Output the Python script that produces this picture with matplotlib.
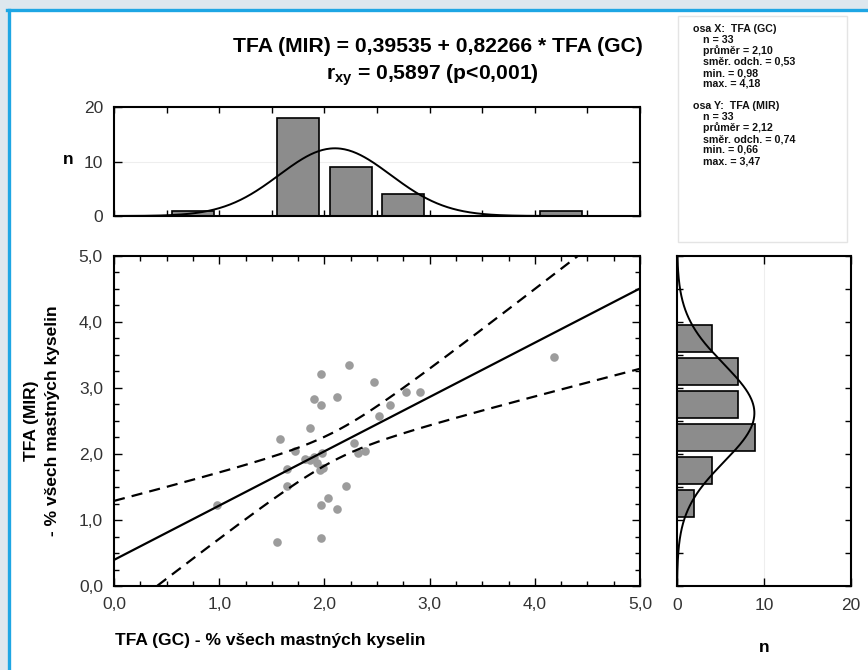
import numpy as np
import matplotlib
matplotlib.use("Agg")
import matplotlib.pyplot as plt
from matplotlib.patches import Rectangle
from matplotlib.lines import Line2D
from matplotlib.ticker import MultipleLocator, FixedLocator, FuncFormatter

plt.rcParams['font.family'] = ['Liberation Sans', 'DejaVu Sans']
plt.rcParams['mathtext.fontset'] = 'custom'
plt.rcParams['mathtext.rm'] = 'Liberation Sans:bold'
plt.rcParams['mathtext.it'] = 'Liberation Sans:bold'
plt.rcParams['mathtext.bf'] = 'Liberation Sans:bold'

# ---------------- data ----------------
x_gc = [0.98, 1.55, 1.58, 1.64, 1.64, 1.72, 1.86, 1.90, 1.97, 1.97, 1.97,
        2.03, 1.97, 2.12, 2.12, 2.21, 2.23, 2.28, 2.32, 2.39, 2.47, 2.52,
        2.62, 2.78, 2.91, 4.18, 1.82, 1.86, 1.98, 1.93, 1.96, 1.99, 1.90]
y_mir = [1.22, 0.66, 2.22, 1.78, 1.52, 2.04, 2.39, 2.83, 3.21, 2.74, 1.22,
         1.34, 0.73, 1.17, 2.86, 1.52, 3.35, 2.16, 2.01, 2.04, 3.09, 2.57,
         2.74, 2.94, 2.94, 3.47, 1.92, 1.91, 2.01, 1.86, 1.76, 1.79, 1.95]

intercept = 0.39535
slope = 0.82266
r_xy = 0.5897
t_crit = 2.0395

n_obs = 33
x_mean, x_sd, x_min, x_max = 2.10, 0.53, 0.98, 4.18
y_mean, y_sd, y_min, y_max = 2.12, 0.74, 0.66, 3.47

top_bin_centers = [0.75, 1.25, 1.75, 2.25, 2.75, 3.25, 3.75, 4.25]
top_counts = [1, 0, 18, 9, 4, 0, 0, 1]
right_bin_centers = [1.25, 1.75, 2.25, 2.75, 3.25, 3.75]
right_counts = [2, 4, 9, 7, 7, 4]
bin_width = 0.5
right_shift = 0.5

title1 = "TFA (MIR) = 0,39535 + 0,82266 * TFA (GC)"
title2 = r"$r_{xy}$ = 0,5897 (p<0,001)"
xlabel = "TFA (GC) - % všech mastných kyselin"
ylabel = "TFA (MIR)\n- % všech mastných kyselin"
stats_x = ["osa X:  TFA (GC)", "n = 33", "průměr = 2,10", "směr. odch. = 0,53", "min. = 0,98", "max. = 4,18"]
stats_y = ["osa Y:  TFA (MIR)", "n = 33", "průměr = 2,12", "směr. odch. = 0,74", "min. = 0,66", "max. = 3,47"]

# ---------------- figure ----------------
W, H = 868, 670
fig = plt.figure(figsize=(W / 100, H / 100), dpi=100)
fig.patch.set_facecolor('#dde7ee')

def fx(px):
    return px / W

def fy(py):
    return 1 - py / H

def box(l, t, r, b):
    return [fx(l), fy(b), fx(r) - fx(l), fy(t) - fy(b)]

fig.patches.append(Rectangle((fx(8), 0), 1, fy(9.5), transform=fig.transFigure,
                             facecolor='white', edgecolor='none', zorder=-10))
fig.lines.append(Line2D([fx(8.5), fx(8.5)], [0, fy(9.5)], transform=fig.transFigure,
                        color='#1ea6e4', lw=2.4, zorder=-5))
fig.lines.append(Line2D([fx(7.3), 1], [fy(9.5), fy(9.5)], transform=fig.transFigure,
                        color='#1ea6e4', lw=2.4, zorder=-5))

# stats box
fig.patches.append(Rectangle((fx(678), fy(242)), fx(847) - fx(678), fy(16) - fy(242),
                             transform=fig.transFigure, facecolor='white',
                             edgecolor='#e4e4e4', lw=1.0, zorder=-5))
ys = [29, 40, 51, 62, 73, 84]
for i, s in enumerate(stats_x):
    fig.text(fx(693 if i == 0 else 703), fy(ys[i]), s, fontsize=7.7, fontweight='bold',
             va='center', ha='left', color='#111111')
for i, s in enumerate(stats_y):
    fig.text(fx(693 if i == 0 else 703), fy(ys[i] + 77), s, fontsize=7.7, fontweight='bold',
             va='center', ha='left', color='#111111')

# titles
fig.text(fx(438), fy(46), title1, fontsize=15.2, fontweight='bold', ha='center', va='center')
fig.text(fx(432), fy(75), title2, fontsize=15.2, fontweight='bold', ha='center', va='center')

tick_col = '#333333'
lab_fs = 12.5
spine_lw = 1.5

def style(ax):
    for s in ax.spines.values():
        s.set_linewidth(spine_lw)
    ax.tick_params(which='both', direction='in', top=True, right=True, colors='black',
                   labelcolor=tick_col, labelsize=lab_fs, width=1.0)
    ax.tick_params(which='major', length=6, pad=8)
    ax.tick_params(which='minor', length=3.5)

comma = FuncFormatter(lambda v, p: f"{v:.1f}".replace('.', ','))

# ---------------- main scatter ----------------
ax = fig.add_axes(box(114, 256, 640, 586))
ax.set_xlim(0, 5)
ax.set_ylim(0, 5)
ax.xaxis.set_major_locator(MultipleLocator(1.0))
ax.yaxis.set_major_locator(MultipleLocator(1.0))
ax.xaxis.set_minor_locator(MultipleLocator(0.25))
ax.yaxis.set_minor_locator(MultipleLocator(0.25))
ax.xaxis.set_major_formatter(comma)
ax.yaxis.set_major_formatter(comma)
style(ax)

xs = np.linspace(0, 5, 300)
fit = intercept + slope * xs
s_res = y_sd * np.sqrt(1 - r_xy ** 2) * np.sqrt((n_obs - 1) / (n_obs - 2))
sxx = x_sd ** 2 * (n_obs - 1)
se = s_res * np.sqrt(1 / n_obs + (xs - x_mean) ** 2 / sxx)
ax.plot(xs, fit, color='black', lw=1.6, zorder=3)
ax.plot(xs, fit + t_crit * se, color='black', lw=1.6, ls=(0, (5, 3.2)), zorder=3)
ax.plot(xs, fit - t_crit * se, color='black', lw=1.6, ls=(0, (5, 3.2)), zorder=3)
ax.plot(x_gc, y_mir, 'o', color='#9c9c9c', markersize=6.2, markeredgewidth=0, zorder=2)

fig.text(fx(270), fy(641), xlabel, fontsize=12.5, fontweight='bold', ha='center', va='center')
fig.text(fx(42), fy(421), ylabel, fontsize=12.5, fontweight='bold', ha='center', va='center',
         rotation=90, linespacing=1.5, multialignment='center')

# ---------------- top histogram ----------------
axt = fig.add_axes(box(114, 107, 640, 216))
axt.set_xlim(0, 5)
axt.set_ylim(0, 20)
axt.bar(top_bin_centers, top_counts, width=bin_width * 0.8, color='#8c8c8c',
        edgecolor='black', lw=1.2, zorder=2)
xc = np.linspace(0, 5, 400)
axt.plot(xc, n_obs * bin_width / (x_sd * np.sqrt(2 * np.pi)) *
         np.exp(-0.5 * ((xc - x_mean) / x_sd) ** 2), color='black', lw=1.4, zorder=3)
axt.axhline(10, color='#eeeeee', lw=0.8, zorder=0)
axt.xaxis.set_major_locator(MultipleLocator(0.5))
axt.yaxis.set_major_locator(FixedLocator([0, 10, 20]))
style(axt)
axt.tick_params(axis='x', labelbottom=False, length=4)
fig.text(fx(68), fy(160), 'n', fontsize=12.5, fontweight='bold', ha='center', va='center')

# ---------------- right histogram ----------------
axr = fig.add_axes(box(677, 256, 851, 586))
axr.set_xlim(0, 20)
axr.set_ylim(0, 5)
axr.barh(right_bin_centers, right_counts, height=bin_width * 0.8, color='#8c8c8c',
         edgecolor='black', lw=1.2, zorder=2)
yc = np.linspace(0, 5, 400)
axr.plot(n_obs * bin_width / (y_sd * np.sqrt(2 * np.pi)) *
         np.exp(-0.5 * ((yc - y_mean - right_shift) / y_sd) ** 2), yc,
         color='black', lw=1.4, zorder=3)
axr.axvline(10, color='#eeeeee', lw=0.8, zorder=0)
axr.xaxis.set_major_locator(FixedLocator([0, 10, 20]))
axr.yaxis.set_major_locator(MultipleLocator(0.5))
style(axr)
axr.tick_params(axis='y', labelleft=False, length=4)
axr.tick_params(axis='x', pad=9)
fig.text(fx(764), fy(648), 'n', fontsize=12.5, fontweight='bold', ha='center', va='center')

fig.savefig('out.png', dpi=100, facecolor=fig.get_facecolor())
